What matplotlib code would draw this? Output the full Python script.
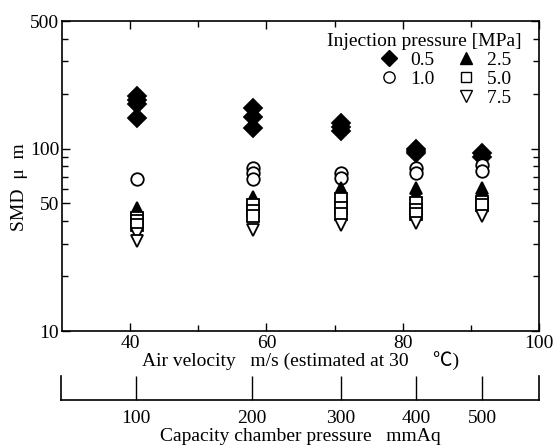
import matplotlib

matplotlib.use("Agg")
import matplotlib.pyplot as plt
import numpy as np
from matplotlib.lines import Line2D
from matplotlib.ticker import FixedLocator, LogLocator, NullFormatter, FixedFormatter

plt.rcParams["font.family"] = ["Liberation Serif", "Noto Sans CJK JP", "DejaVu Sans"]
plt.rcParams["font.size"] = 14

# air velocity of each measuring station (m/s)
velocity = [41.0, 58.0, 71.0, 82.0, 91.6]
# velocity ~ K * sqrt(capacity chamber pressure)
K_SQRT = 4.1
pressure_ticks = [100, 200, 300, 400, 500]

# SMD (um) at every station, one list per injection pressure
smd_05 = [[193, 185, 176, 147], [167, 148, 130], [138, 131, 125], [100, 97, 94], [94, 90]]
smd_10 = [[68], [78, 73, 68.5], [73, 69], [78, 73], [81, 75]]
smd_25 = [[47], [54], [60.5, 57], [61, 56], [60.5, 58]]
smd_50 = [[41.5, 40, 38], [49, 45.5, 42.5], [53, 47, 43.5], [50, 46, 44], [50.7, 48.8]]
smd_75 = [[34, 31], [35.7], [38], [39], [42.6]]

series = [
    ("0.5", smd_05, "D", "black", 9.5),
    ("1.0", smd_10, "o", "white", 9.0),
    ("2.5", smd_25, "^", "black", 9.0),
    ("5.0", smd_50, "s", "white", 8.5),
    ("7.5", smd_75, "v", "white", 9.0),
]

fig = plt.figure(figsize=(5.55, 4.45), dpi=100)
ax = fig.add_axes([62 / 555, 1 - 331 / 445, 477 / 555, 310 / 445])

handles = {}
for label, values, marker, face, ms in series:
    xs, ys = [], []
    for v, col in zip(velocity, values):
        xs += [v] * len(col)
        ys += col
    ax.plot(xs, ys, ls="none", marker=marker, ms=ms, mfc=face, mec="black", mew=1.3)
    handles[label] = Line2D([], [], ls="none", marker=marker, ms=ms * 0.9, mfc=face, mec="black", mew=1.0)

ax.set_yscale("log")
ax.set_ylim(10, 500)
ax.set_xlim(30, 100)
ax.yaxis.set_major_locator(FixedLocator([10, 50, 100, 500]))
ax.yaxis.set_major_formatter(FixedFormatter(["10", "50", "100", "500"]))
ax.yaxis.set_minor_locator(LogLocator(base=10, subs=np.arange(2, 10)))
ax.yaxis.set_minor_formatter(NullFormatter())
ax.xaxis.set_major_locator(FixedLocator([40, 60, 80, 100]))
ax.xaxis.set_minor_locator(FixedLocator([50, 70, 90]))
ax.tick_params(which="both", direction="in", top=True, right=True, width=1.0)
ax.tick_params(which="major", length=6)
ax.tick_params(which="minor", length=4)
ax.tick_params(axis="y", pad=2)
ax.tick_params(axis="x", pad=3)
for s in ax.spines.values():
    s.set_linewidth(1.2)

ax.set_xlabel("Air velocity   m/s (estimated at 30     \u2103)", labelpad=0)
fig.text(20 / 555, 1 - 187 / 445, "SMD  \u03bc  m", rotation=90, ha="center", va="center")

blank = Line2D([], [], ls="none")
leg_handles = [handles["0.5"], handles["1.0"], blank, handles["2.5"], handles["5.0"], handles["7.5"]]
leg_labels = ["0.5", "1.0", "", "2.5  ", "5.0  ", "7.5  "]
ax.legend(leg_handles, leg_labels, ncol=2, title="Injection pressure [MPa]",
          loc="upper right", bbox_to_anchor=(0.963, 0.962), frameon=False, alignment="right",
          handlelength=1.0, handletextpad=0.6, columnspacing=1.1, labelspacing=0.08,
          borderpad=0, borderaxespad=0, title_fontsize=14)

# lower scale: capacity chamber pressure
ax2 = fig.add_axes([61 / 555, 1 - 400 / 445, 478 / 555, 24 / 445])
ax2.set_xscale("function", functions=(lambda p: K_SQRT * np.sqrt(np.abs(p)), lambda v: (v / K_SQRT) ** 2))
ax2.set_xlim((30 / K_SQRT) ** 2, (100 / K_SQRT) ** 2)
ax2.set_xticks(pressure_ticks)
ax2.set_xticklabels([str(p) for p in pressure_ticks])
ax2.xaxis.set_minor_locator(FixedLocator([]))
ax2.set_yticks([])
ax2.spines["top"].set_visible(False)
for s in ["left", "right", "bottom"]:
    ax2.spines[s].set_linewidth(1.2)
ax2.patch.set_alpha(0)
ax2.tick_params(axis="x", direction="in", length=17, width=1.0, pad=7)
ax2.set_xlabel("Capacity chamber pressure   mmAq", labelpad=1)

fig.savefig("out.png", dpi=100)
